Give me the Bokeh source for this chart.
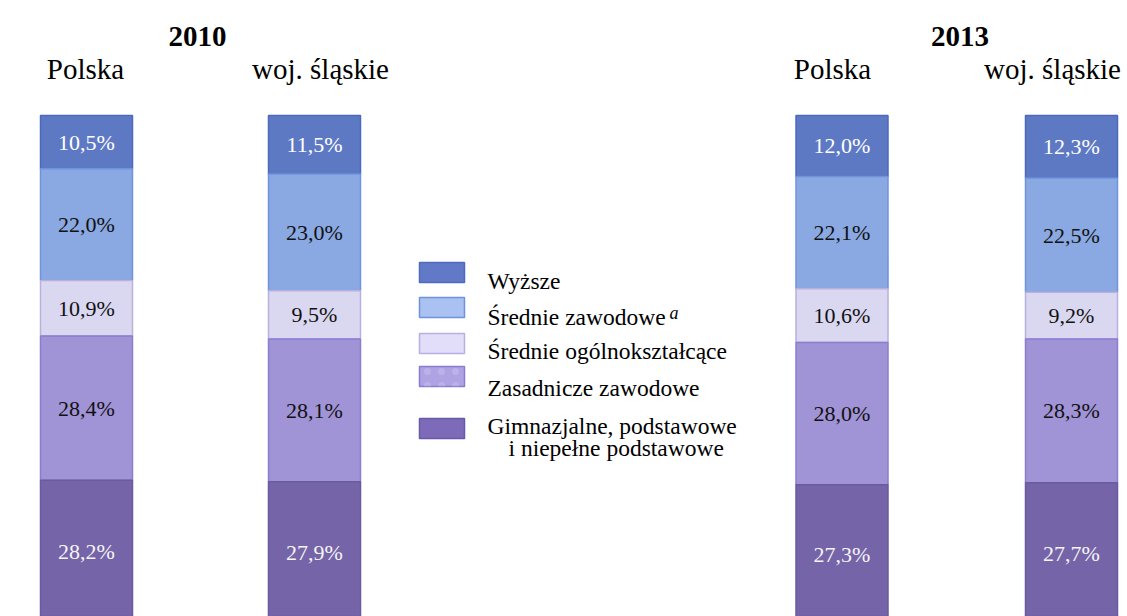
from bokeh.plotting import figure
from bokeh.models import Range1d, ColumnDataSource
from bokeh.embed import file_html
from bokeh.resources import INLINE
from bokeh.core.properties import value

# ---------------- data ----------------
categories = [
    "Wyższe",
    "Średnie zawodowe",
    "Średnie ogólnokształcące",
    "Zasadnicze zawodowe",
    "Gimnazjalne, podstawowe i niepełne podstawowe",
]
years = ["2010", "2013"]
regions = ["Polska", "woj. śląskie"]
polska_2010 = [10.5, 22.0, 10.9, 28.4, 28.2]
slaskie_2010 = [11.5, 23.0, 9.5, 28.1, 27.9]
polska_2013 = [12.0, 22.1, 10.6, 28.0, 27.3]
slaskie_2013 = [12.3, 22.5, 9.2, 28.3, 27.7]

# ---------------- styles ----------------
bar_fill = ["#5e79c4", "#8aa8e1", "#dad7f0", "#a093d6", "#7564a8"]
bar_line = ["#4b69bd", "#6f93dc", "#b9b0de", "#8c7ecf", "#6a5a9f"]
sw_fill = ["#6279c7", "#a9c2f2", "#e2ddf9", "#b0a3e4", "#7d6bb9"]
sw_line = ["#4f6bc0", "#6e93dc", "#b9b0e0", "#8a7bd0", "#6a58a8"]
lbl_color = ["#ffffff", "#111111", "#111111", "#111111", "#f4f4f4"]
FONT = value("'Liberation Serif', 'Times New Roman', serif")

W, H = 1127, 616
TOP_PX = 115
PX_PER_PCT = 5.08


def yv(px):
    return (px - TOP_PX) / PX_PER_PCT


p = figure(width=W, height=H, x_range=Range1d(0, W),
           y_range=Range1d(yv(H), yv(0)),
           output_backend="svg", toolbar_location=None,
           x_axis_location=None, y_axis_location=None, min_border=0)
p.grid.visible = False
p.outline_line_color = None

series = [polska_2010, slaskie_2010, polska_2013, slaskie_2013]
centers = [86, 314, 841.5, 1071]
BAR_W = 92

xs, tops, bottoms, fills, lines, labels, label_y, lcols = [], [], [], [], [], [], [], []
for vals, cx in zip(series, centers):
    cum = 0.0
    for i, v in enumerate(vals):
        xs.append(cx)
        tops.append(cum)
        bottoms.append(cum + v)
        label_y.append(cum + v / 2)
        cum += v
        fills.append(bar_fill[i])
        lines.append(bar_line[i])
        labels.append(f"{v:.1f}".replace(".", ",") + "%")
        lcols.append(lbl_color[i])

src = ColumnDataSource(dict(x=xs, top=tops, bottom=bottoms, fill=fills,
                            line=lines, label=labels, ly=label_y, lc=lcols))
p.vbar(x="x", width=BAR_W, top="top", bottom="bottom", source=src,
       fill_color="fill", line_color="line", line_width=1.5)
p.text(x="x", y="ly", text="label", source=src, text_color="lc",
       text_font=FONT, text_font_size="22px", text_align="center",
       text_baseline="middle")

# ---------------- headers ----------------
year_x = [197, 959.5]
p.text(x=year_x, y=[yv(36)] * 2, text=years, text_font=FONT,
       text_font_size="29px", text_font_style="bold", text_align="center",
       text_baseline="alphabetic", text_color="#000000")
head_x = [85, 320, 832, 1052]
p.text(x=head_x, y=[yv(68)] * 4, text=regions * 2, text_font=FONT,
       text_font_size="29px", text_align="center",
       text_baseline="alphabetic", text_color="#000000")

# ---------------- legend ----------------
sw_y = [272, 307, 343, 376, 428]
p.rect(x=[441.5] * 5, y=[yv(v) for v in sw_y], width=45,
       height=20 / PX_PER_PCT, fill_color=sw_fill, line_color=sw_line,
       line_width=1.5)
p.rect(x=[441.5], y=[yv(376)], width=45, height=20 / PX_PER_PCT,
       fill_alpha=0, line_alpha=0, hatch_pattern="dot",
       hatch_color="#ffffff", hatch_alpha=0.15, hatch_scale=14)

leg_text = ["Wyższe", "Średnie zawodowe", "Średnie ogólnokształcące",
            "Zasadnicze zawodowe", "Gimnazjalne, podstawowe",
            "i niepełne podstawowe"]
leg_x = [487, 487, 487, 487, 487, 508]
leg_base = [280, 316.7, 350.7, 387, 425, 447]
p.text(x=leg_x, y=[yv(v) for v in leg_base], text=leg_text, text_font=FONT,
       text_font_size="23.5px", text_align="left",
       text_baseline="alphabetic", text_color="#000000")
p.text(x=[669], y=[yv(312)], text=["a"], text_font=FONT,
       text_font_size="18px", text_font_style="italic", text_align="left",
       text_baseline="alphabetic", text_color="#000000")

open("out.html", "w").write(file_html(p, INLINE))
